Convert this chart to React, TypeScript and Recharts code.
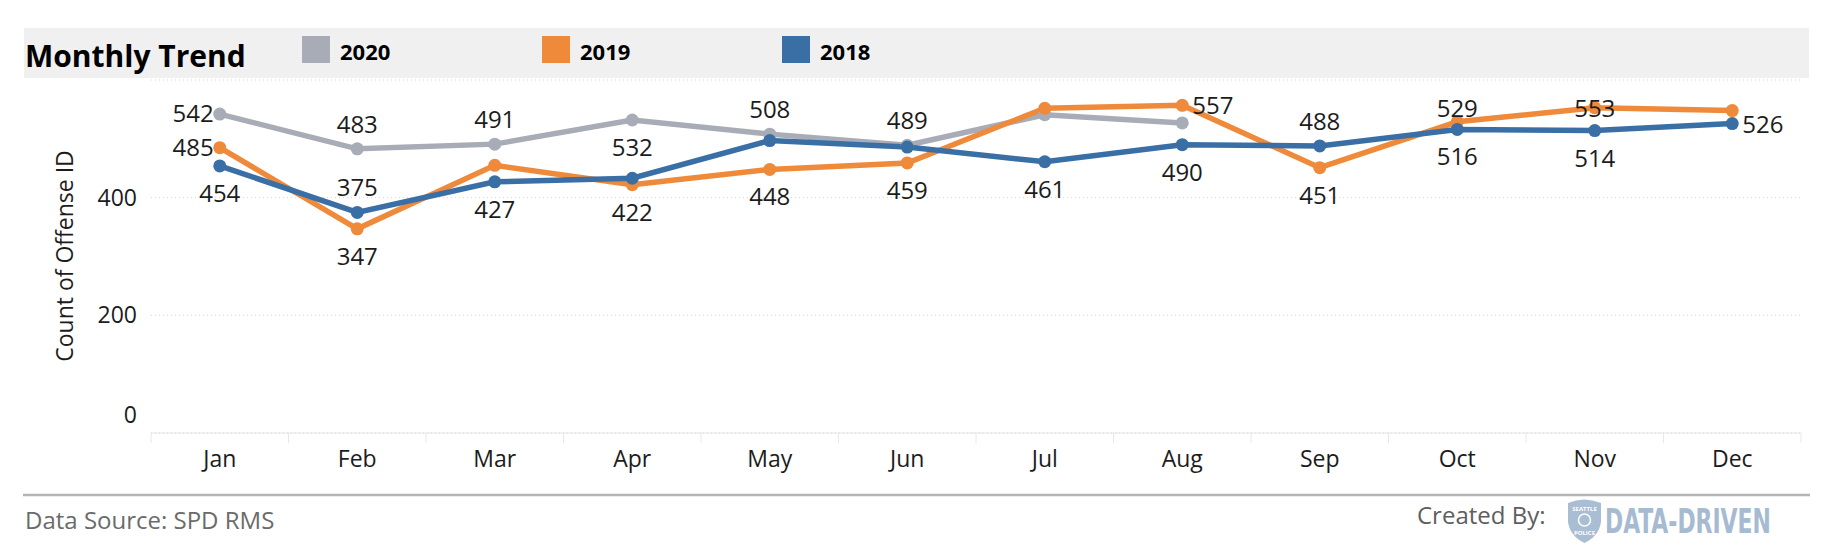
import { LineChart, Line, XAxis, YAxis, CartesianGrid, LabelList } from "recharts";

const MONTHS = ["Jan", "Feb", "Mar", "Apr", "May", "Jun", "Jul", "Aug", "Sep", "Oct", "Nov", "Dec"];
const COUNTS_2020 = [542, 483, 491, 532, 508, 489, 541, 527, null, null, null, null];
const COUNTS_2019 = [485, 347, 455, 422, 448, 459, 552, 557, 451, 529, 553, 548];
const COUNTS_2018 = [454, 375, 427, 433, 497, 486, 461, 490, 488, 516, 514, 526];
const Y_TICKS = [0, 200, 400];

// where each value label sits relative to its point ("" = no label)
const LABELS_2020 = ["left", "top", "top", "bottom", "top", "top", "", "", "", "", "", ""];
const LABELS_2019 = ["left", "bottom", "", "bottom", "bottom", "bottom", "", "right", "bottom", "top", "top", ""];
const LABELS_2018 = ["bottom", "top", "bottom", "", "", "", "bottom", "bottom", "top", "bottom", "bottom", "right"];

const W = 1830;
const H = 550;
const FONT = '"Open Sans", sans-serif';
const TEXT = "#1c1c1c";
const MARGIN = { top: 80, right: 29, bottom: 77, left: 0 };
const Y_AXIS_W = 151;
const BAND = (W - Y_AXIS_W - MARGIN.right) / MONTHS.length;

const SERIES = [
  { key: "y2020", name: "2020", color: "#a7acb7", labels: LABELS_2020 },
  { key: "y2019", name: "2019", color: "#ef8a3a", labels: LABELS_2019 },
  { key: "y2018", name: "2018", color: "#3a6fa6", labels: LABELS_2018 },
];

const data = MONTHS.map((month, i) => ({
  month,
  y2020: COUNTS_2020[i],
  y2019: COUNTS_2019[i],
  y2018: COUNTS_2018[i],
}));

function makeLabel(placements: string[]) {
  return (props: any) => {
    const { value, index } = props;
    const x = props.x ?? props.viewBox?.x;
    const y = props.y ?? props.viewBox?.y;
    const pos = placements[index];
    if (value == null || !pos || x == null) return null;
    let tx = x;
    let ty = y;
    let anchor = "middle";
    if (pos === "top") ty = Math.max(y - 16, MARGIN.top + 37);
    else if (pos === "bottom") ty = y + 36;
    else if (pos === "left") {
      tx = x - 6;
      ty = y + 8;
      anchor = "end";
    } else if (pos === "right") {
      tx = x + 10;
      ty = y + 9;
      anchor = "start";
    }
    return (
      <text x={tx} y={ty} textAnchor={anchor} fontSize={24} fontFamily={FONT} fill={TEXT}>
        {value}
      </text>
    );
  };
}

const YTick = (props: any) => {
  const { x, y, payload } = props;
  return (
    <text x={x} y={payload.value === 0 ? y - 10 : y + 8} textAnchor="end" fontSize={23} fontFamily={FONT} fill={TEXT}>
      {payload.value}
    </text>
  );
};

const XTick = (props: any) => {
  const { x, y, payload, index } = props;
  const left = x - BAND / 2;
  return (
    <g>
      <line x1={left} y1={y} x2={left} y2={y + 10} stroke="#e8e8e8" strokeWidth={1} />
      {index === MONTHS.length - 1 && (
        <line x1={x + BAND / 2} y1={y} x2={x + BAND / 2} y2={y + 10} stroke="#e8e8e8" strokeWidth={1} />
      )}
      <text x={x} y={y + 34} textAnchor="middle" fontSize={23} fontFamily={FONT} fill={TEXT}>
        {payload.value}
      </text>
    </g>
  );
};

function Decor() {
  return (
    <svg width={W} height={H} style={{ position: "absolute", left: 0, top: 0 }}>
      <rect x={24} y={28} width={1785} height={50} fill="#f0f0f0" />
      <text x={25} y={67} fontSize={30} fontWeight={700} fontFamily={FONT} fill="#000">
        Monthly Trend
      </text>
      {SERIES.map((s, i) => (
        <g key={s.key}>
          <rect x={302 + i * 240} y={36} width={28} height={27} fill={s.color} />
          <text x={340 + i * 240} y={60} fontSize={22} fontWeight={700} fontFamily={FONT} fill="#000">
            {s.name}
          </text>
        </g>
      ))}
      <text
        transform="translate(73,256) rotate(-90)"
        textAnchor="middle"
        fontSize={23}
        fontFamily={FONT}
        fill={TEXT}
      >
        Count of Offense ID
      </text>
      <line x1={23} y1={495} x2={1810} y2={495} stroke="#b5b5b5" strokeWidth={2.5} />
      <text x={25} y={529} fontSize={24} fontFamily={FONT} fill="#6b6b6b">
        Data Source: SPD RMS
      </text>
      <text x={1417} y={524} fontSize={24} fontFamily={FONT} fill="#5e5e5e">
        Created By:
      </text>
      <path
        d="M1568,503 Q1584,496 1601,503 L1601,522 Q1599,536 1584.5,543 Q1570,536 1568,522 Z"
        fill="#a9bdd3"
      />
      <circle cx={1584.5} cy={520} r={6} fill="none" stroke="#fff" strokeWidth={1.5} />
      <text x={1584.5} y={511} textAnchor="middle" fontSize={6} fontWeight={700} fontFamily={FONT} fill="#fff">
        SEATTLE
      </text>
      <text x={1584.5} y={535} textAnchor="middle" fontSize={6} fontWeight={700} fontFamily={FONT} fill="#fff">
        POLICE
      </text>
      <g transform="translate(1605,533) scale(0.7,1)">
        <text
          x={0}
          y={0}
          fontSize={34}
          fontWeight={700}
          fontFamily='"DejaVu Sans Condensed", "DejaVu Sans", sans-serif'
          fill="#a6bbd1"
          textLength={237}
          lengthAdjust="spacingAndGlyphs"
        >
          DATA-DRIVEN
        </text>
      </g>
    </svg>
  );
}

export default function App() {
  return (
    <div style={{ position: "absolute", left: 0, top: 0, width: W, height: H, background: "#fff" }}>
      <Decor />
      <div style={{ position: "absolute", left: 0, top: 0 }}>
        <LineChart width={W} height={H} data={data} margin={MARGIN}>
          <CartesianGrid vertical={false} stroke="#d6d6d6" strokeDasharray="1 3" />
          <XAxis
            dataKey="month"
            scale="band"
            height={40}
            tickLine={false}
            tickSize={0}
            tickMargin={0}
            axisLine={{ stroke: "#e3e3e3" }}
            tick={<XTick />}
            interval={0}
          />
          <YAxis
            width={Y_AXIS_W}
            domain={[0, 600]}
            ticks={Y_TICKS}
            axisLine={false}
            tickLine={false}
            tickSize={0}
            tickMargin={14}
            tick={<YTick />}
          />
          {SERIES.map((s) => (
            <Line
              key={s.key}
              dataKey={s.key}
              name={s.name}
              stroke={s.color}
              strokeWidth={5.5}
              dot={{ r: 6.5, fill: s.color, stroke: s.color, strokeWidth: 0 }}
              activeDot={false}
              isAnimationActive={false}
              connectNulls={false}
            >
              <LabelList dataKey={s.key} content={makeLabel(s.labels)} />
            </Line>
          ))}
        </LineChart>
      </div>
    </div>
  );
}
